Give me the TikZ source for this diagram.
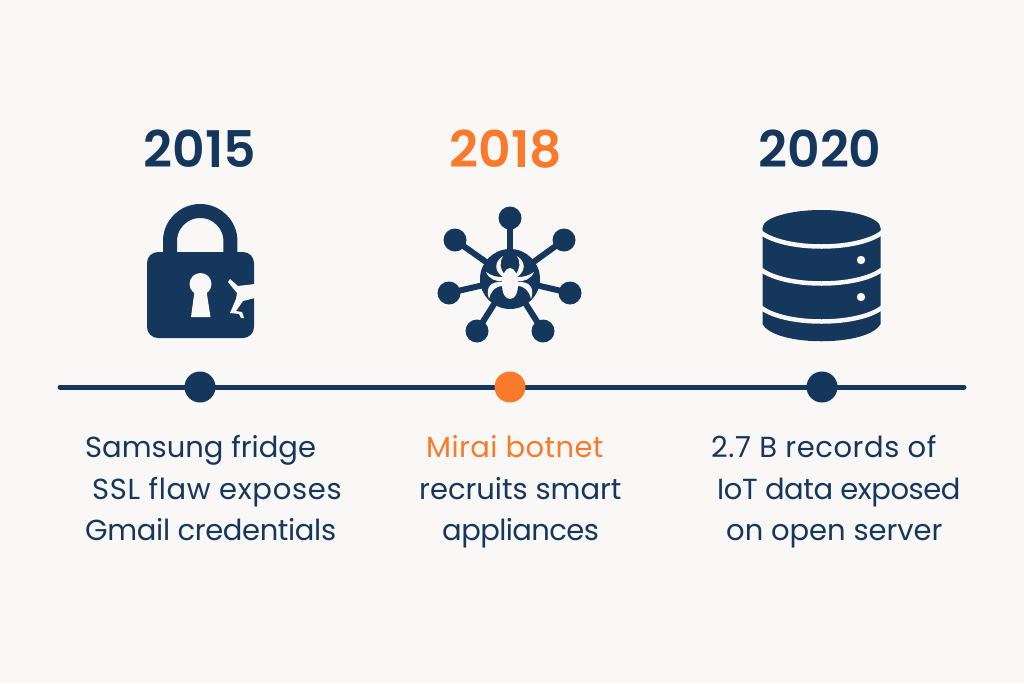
\documentclass[tikz,border=0pt]{standalone}
\usepackage{fontspec}
\setmainfont{Poppins}
\newfontfamily\yearfont{Poppins SemiBold}
\definecolor{navy}{HTML}{16375C}
\definecolor{accent}{HTML}{F97A2B}
\definecolor{paper}{HTML}{F9F8F7}
\newcommand{\ls}[1]{\addfontfeature{LetterSpace=#1}}
\tikzset{
  yearlabel/.style={font=\yearfont\fontsize{50.5}{50.5}\selectfont,text=navy,inner sep=0pt,anchor=center},
  caption/.style={font=\fontsize{29}{40.5}\selectfont,text=navy,inner sep=0pt,anchor=base west},
  dot/.style={circle,fill=navy,minimum size=31pt,inner sep=0pt},
  hub/.style={circle,fill=navy,inner sep=0pt},
  spoke/.style={draw=navy,line width=6pt}
}
\begin{document}
\begin{tikzpicture}[x=1pt,y=-1pt]
\useasboundingbox (0,0) rectangle (1024,683);
\fill[paper] (0,0) rectangle (1024,683);
% timeline
\coordinate (lineL) at (60,387);
\coordinate (lineR) at (964,387);
\draw[navy,line width=5pt,line cap=round] (lineL) -- (lineR);
\node[dot] (d1) at (200,387) {};
\node[dot,fill=accent] (d2) at (510,387) {};
\node[dot] (d3) at (822,387) {};
% years
\node[yearlabel] (y1) at (200,149) {2015};
\node[yearlabel,text=accent] (y2) at (506,149) {2018};
\node[yearlabel] (y3) at (820,149) {2020};
% lock
\draw[navy,line width=14pt] (170,254) -- (170,241) arc[start angle=180,end angle=0,x radius=30.2,y radius=-30] -- (230.4,254);
\fill[navy,rounded corners=11pt] (147,252) rectangle (254,338);
\fill[paper] (200.5,284) circle (11);
\fill[paper] (195,288) -- (191,317) -- (210.5,317) -- (206,288) -- cycle;
\fill[paper] (228,282) -- (230,279) -- (238,286) -- (255,284) -- (255,298) -- (243,301) -- (236,311) -- (242,312) -- (244,318) -- (241,318) -- (239,314) -- (230,313) -- (236,299) -- (237,293) -- cycle;
% bot
\foreach \n/\x/\y in {a/510/218,b/455/240,c/564/240,d/449/293,e/570/293,f/477/331,g/543/331}{
  \node[hub,minimum size=23pt] (\n) at (\x,\y) {};
}
\node[hub,minimum size=60pt] (core) at (510,279) {};
\foreach \n in {a,b,c,d,e,f,g}{\draw[spoke] (core.center) -- (\n.center);}
\fill[paper] (510,268) .. controls (515,268) and (518,276) .. (518,284) .. controls (518,293) and (515,299) .. (510,299) .. controls (505,299) and (502,293) .. (502,284) .. controls (502,276) and (505,268) .. (510,268) -- cycle;
\foreach \s in {1,-1}{
 \begin{scope}[shift={(510,0)},xscale=\s]
  % upper leg
  \fill[paper] (5,275) .. controls (10,269) and (11,263) .. (7,256) .. controls (16,262) and (16,271) .. (7,277) -- cycle;
  % middle leg
  \fill[paper] (7,277) .. controls (14,277) and (18,276) .. (24,272) .. controls (21,279) and (14,282) .. (7,281) -- cycle;
  % lower leg
  \fill[paper] (7,282) .. controls (19,281) and (25,287) .. (21,299) .. controls (19,291) and (15,286) .. (7,286) -- cycle;
 \end{scope}
}
% database
\fill[navy] (762.5,228) -- (762.5,324) .. controls (775,347) and (868,347) .. (880.5,324) -- (880.5,228) -- cycle;
\fill[navy] (821.5,228) ellipse (59 and 18);
\foreach \yy in {232,269,307}{
 \draw[paper,line width=4.5pt] (758,\yy-2) .. controls (780,\yy+20) and (863,\yy+20) .. (885,\yy-2);
}
\fill[paper] (861,260) circle (4.2);
\fill[paper] (861,297) circle (4.2);
% captions
\node[caption] (c1a) at (85,457) {Samsung fridge};
\node[caption] (c1b) at (92,499) {\ls{2.4}SSL flaw exposes};
\node[caption] (c1c) at (85,540) {\ls{-1.2}Gmail credentials};
\node[caption,text=accent] (c2a) at (426,457) {\ls{1.4}Mirai botnet};
\node[caption] (c2b) at (419,499) {recruits smart};
\node[caption] (c2c) at (442,540) {\ls{-2}appliances};
\node[caption] (c3a) at (711,457) {\ls{2}2.7 B records of};
\node[caption] (c3b) at (717,499) {\ls{-1.5}IoT data exposed};
\node[caption] (c3c) at (726,540) {on open server};
\end{tikzpicture}
\end{document}
